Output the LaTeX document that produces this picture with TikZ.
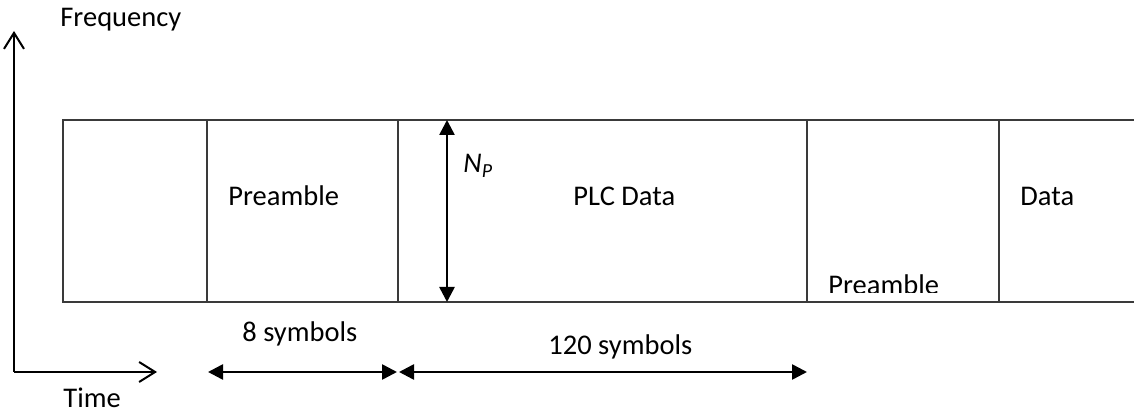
\documentclass[tikz,border=0pt]{standalone}
\usepackage{fontspec}
\setmainfont{Carlito}
\usetikzlibrary{arrows.meta,positioning,calc}
\definecolor{FrameGray}{HTML}{3A3A3A}

\begin{document}
\begin{tikzpicture}[x=0.5pt,y=-0.5pt,
  font=\fontsize{14.25}{17}\selectfont,
  frame/.style={FrameGray,line width=0.75pt},
  axis/.style={line width=1pt,-{Straight Barb[length=8pt,width=10pt]}},
  span/.style={line width=1.3pt,{Triangle[length=7.5pt,width=7.5pt]}-{Triangle[length=7.5pt,width=7.5pt]}},
  lbl/.style={anchor=base west,inner sep=0pt}]
\useasboundingbox (0,0) rectangle (1134,415);
% axes
\coordinate (orig) at (14,372);
\coordinate (ftop) at (14,31);
\coordinate (tend) at (157,372);
\draw[axis] (orig) -- (ftop);
\draw[axis] (orig) -- (tend);
\node[lbl] (freq) at (60,27) {Frequency};
\node[lbl] (time) at (63,408) {Time};
% frame, open on the right
\draw[frame] (1134,120) -- (63,120) -- (63,302) -- (1134,302);
\foreach \x/\n in {207/a,398/b,807/c,999/d}
  \draw[frame] (\x,120) coordinate (t\n) -- (\x,302) coordinate (b\n);
\node[lbl] (pre1) at (228,206) {Preamble};
\node[lbl] (plc) at (573,206) {PLC Data};
\node[lbl] (dat) at (1020,206) {Data};
\begin{scope}
  \clip (808,250) rectangle (998,293);
  \node[lbl] (pre2) at (828,295) {Preamble};
\end{scope}
% height of the PLC block
\coordinate (nptop) at (447,120);
\coordinate (npbot) at (447,302);
\draw[span] (nptop) -- (npbot);
\node[lbl] (np) at (463,173) {\textit{N\textsubscript{P}}};
% lengths in symbols
\coordinate (s0) at (208,372);
\coordinate (s1) at (397,372);
\coordinate (s2) at (399,372);
\coordinate (s3) at (807,372);
\draw[span] (s0) -- (s1);
\draw[span] (s2) -- (s3);
\node[lbl] (eight) at (242,342) {8 symbols};
\node[lbl] (hundred) at (548,355) {120 symbols};
\end{tikzpicture}
\end{document}
